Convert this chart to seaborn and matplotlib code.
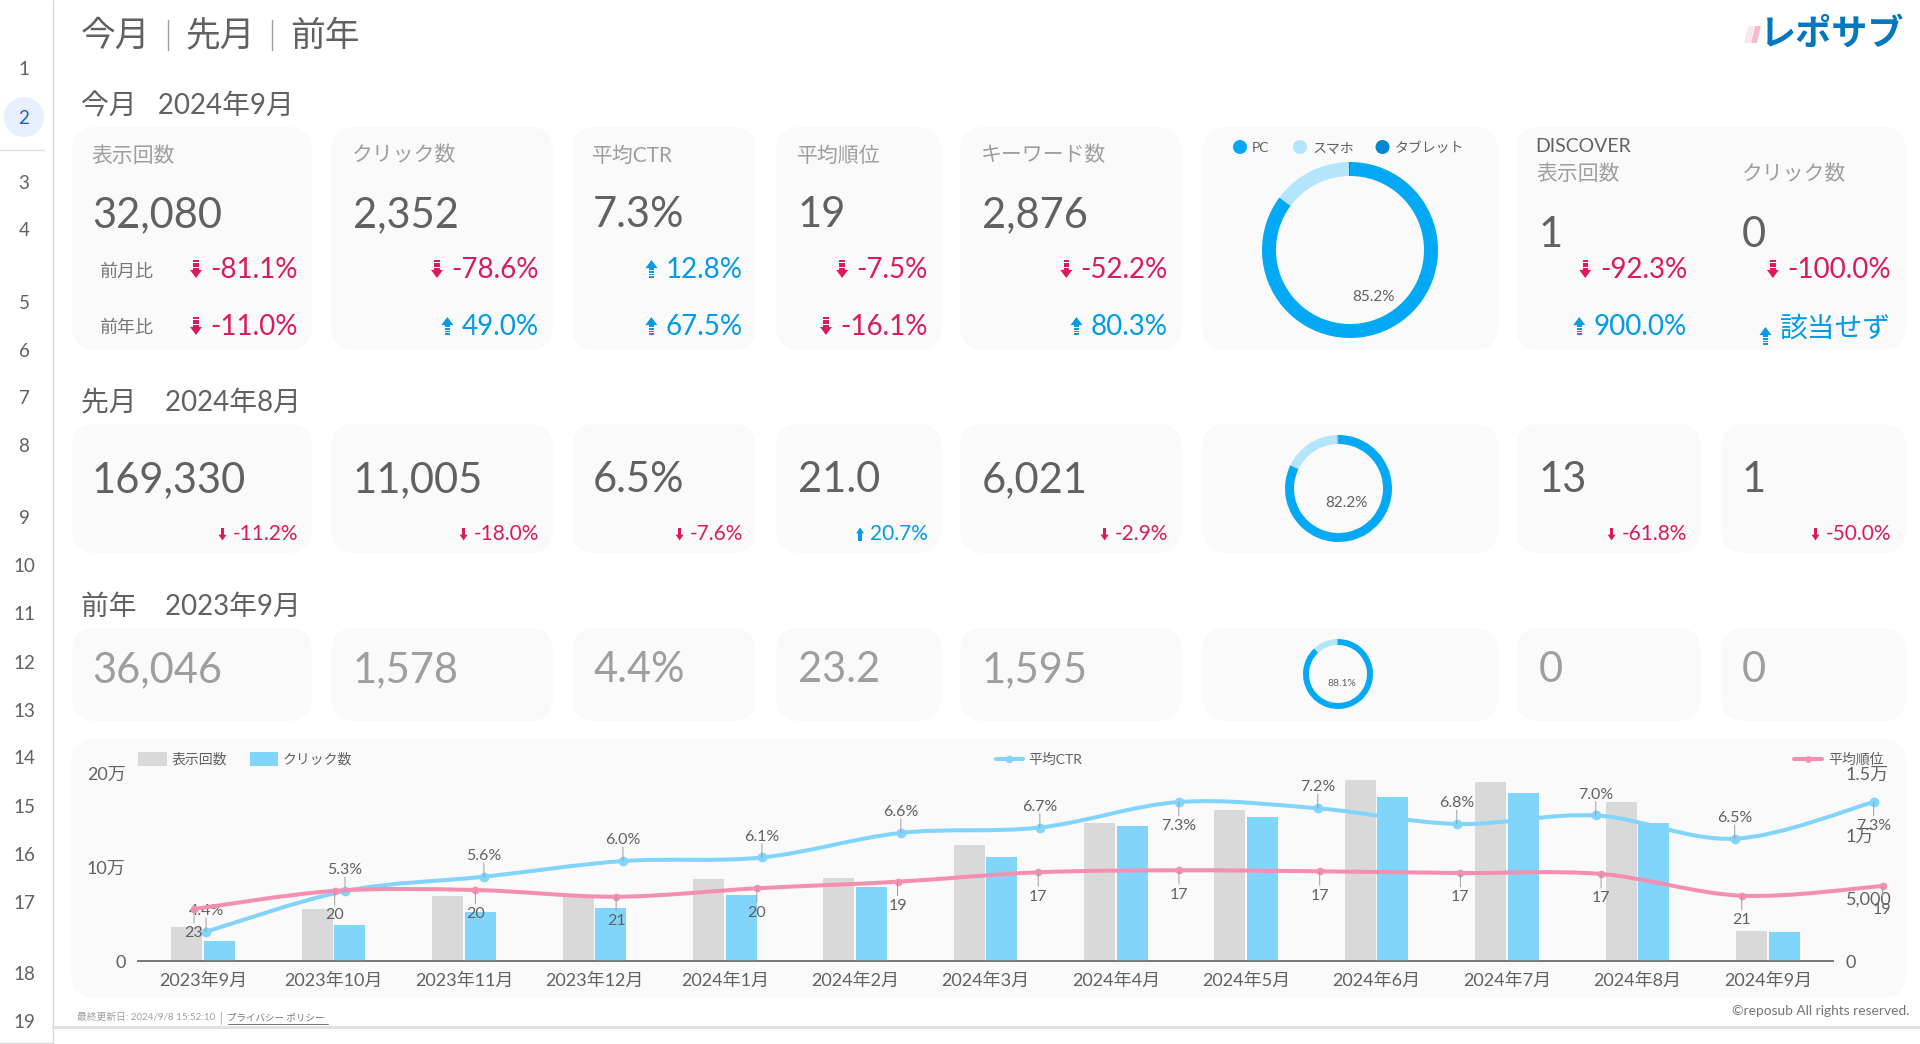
#%%
import matplotlib.pyplot as plt
import pandas as pd
import seaborn as sns
from matplotlib.patches import Circle, FancyBboxPatch, PathPatch, Polygon, Rectangle
from matplotlib.path import Path

#%%
# scorecards
card_labels = ['表示回数', 'クリック数', '平均CTR', '平均順位', 'キーワード数']
now_values = ['32,080', '2,352', '7.3%', '19', '2,876', '1', '0']
mom_changes = ['-81.1%', '-78.6%', '12.8%', '-7.5%', '-52.2%', '-92.3%', '-100.0%']
yoy_changes = ['-11.0%', '49.0%', '67.5%', '-16.1%', '80.3%', '900.0%', '該当せず']
prev_values = ['169,330', '11,005', '6.5%', '21.0', '6,021', '13', '1']
prev_changes = ['-11.2%', '-18.0%', '-7.6%', '20.7%', '-2.9%', '-61.8%', '-50.0%']
year_values = ['36,046', '1,578', '4.4%', '23.2', '1,595', '0', '0']

# device donuts
device_names = ['PC', 'スマホ', 'タブレット']
device_now = [85.2, 14.6, 0.2]
device_prev = [82.2, 17.5, 0.3]
device_year = [88.1, 11.7, 0.2]

# combo chart
months = ['2023年9月', '2023年10月', '2023年11月', '2023年12月', '2024年1月', '2024年2月', '2024年3月',
          '2024年4月', '2024年5月', '2024年6月', '2024年7月', '2024年8月', '2024年9月']
impressions = [36046, 55700, 69100, 68800, 87600, 88650, 123400, 146800, 160300, 192500, 190000, 169330, 32080]
clicks = [1578, 2900, 3880, 4256, 5290, 5930, 8330, 10800, 11465, 13110, 13400, 11005, 2352]
ctr = [4.40, 5.31, 5.63, 5.98, 6.06, 6.61, 6.73, 7.30, 7.16, 6.81, 7.00, 6.48, 7.30]
rank = [23.2, 20.2, 20.06, 21.17, 19.78, 18.69, 17.13, 16.8, 16.97, 17.25, 17.41, 21.0, 19.4]
left_ticks = [0, 100000, 200000]
left_tick_labels = ['0', '10万', '20万']
right_ticks = [0, 5000, 10000, 15000]
right_tick_labels = ['0', '5,000', '1万', '1.5万']

page_numbers = list(range(1, 20))

#%%
sns.set_theme(style='white')
plt.rcParams['font.family'] = ['Lato', 'Noto Sans CJK JP', 'DejaVu Sans']

W, H = 1920, 1044
RED = '#D81B60'
BLUE = '#039BE5'
GREY_TEXT = '#616161'
BAR_GREY = '#D9D9D9'
BAR_BLUE = '#81D4FA'
PINK = '#F48FB1'
DEVICE_COLORS = ['#03A9F4', '#B3E5FC', '#0288D1']

fig = plt.figure(figsize=(W / 100, H / 100), dpi=100, facecolor='white')
bg = fig.add_axes([0, 0, 1, 1], zorder=0)
bg.set_xlim(0, W)
bg.set_ylim(H, 0)
bg.axis('off')
renderer = fig.canvas.get_renderer()


def px_axes(x0, y0, x1, y1, **kw):
    # 像素坐标转成figure坐标
    return fig.add_axes([x0 / W, 1 - y1 / H, (x1 - x0) / W, (y1 - y0) / H], **kw)


def card(x0, y0, x1, y1):
    bg.add_patch(FancyBboxPatch((x0, y0), x1 - x0, y1 - y0, boxstyle='round,pad=0,rounding_size=24',
                                fc='#FAFAFA', ec='none', zorder=1))


def label(x, y, s, size, color=GREY_TEXT, ha='left', **kw):
    # 文字中心比va='center'略低
    if ha == 'left':
        x = x - 1
    return bg.text(x, y + 0.1 * size, s, fontsize=size, color=color, ha=ha, va='center', zorder=3, **kw)


def arrow(cx, cy, w, h, color, up):
    # 条纹箭头，先按向下画
    sign = -1 if up else 1
    top = cy - sign * h / 2
    n = 4
    for i in range(n):
        y0 = top + sign * i * h * 0.15
        bg.add_patch(Rectangle((cx - w * 0.22, min(y0, y0 + sign * h * 0.1)), w * 0.44, h * 0.1,
                               fc=color, ec='none', zorder=3))
    head_y = top + sign * h * 0.55
    bg.add_patch(Polygon([(cx - w / 2, head_y), (cx + w / 2, head_y), (cx, cy + sign * h / 2)],
                         fc=color, ec='none', zorder=3))


def delta(x, y, s, size, arrow_w, arrow_h, gap, arrow_dy=0):
    up = not s.startswith('-')
    color = BLUE if up else RED
    t = label(x, y, s, size, color=color, ha='right')
    left = t.get_window_extent(renderer).x0
    arrow(left - gap, y + 1 + arrow_dy, arrow_w, arrow_h, color, up)


def donut(cx, cy, r, thick, values, text, tx, ty, size):
    ax = px_axes(cx - r, cy - r, cx + r, cy + r, zorder=2)
    ax.pie(values, colors=DEVICE_COLORS, startangle=90, counterclock=False, radius=1,
           wedgeprops=dict(width=thick / r, linewidth=0))
    ax.set_xlim(-1, 1)
    ax.set_ylim(-1, 1)
    label(tx, ty, text, size, ha='center')


#%%
# 左侧页码
bg.add_patch(Circle((24, 117), 20, fc='#E8F0FE', ec='none', zorder=1))
page_y = [68, 117, 182, 229, 302, 350, 397, 445, 517, 565, 613, 662, 710, 757, 806, 854, 902, 973, 1021]
for n, y in zip(page_numbers, page_y):
    label(24, y, str(n), 13.5, color='#1A5FD0' if n == 2 else GREY_TEXT, ha='center')
bg.plot([0, 44], [150, 150], color='#E0E0E0', lw=1, zorder=1)
bg.plot([53, 53], [0, H], color='#DADADA', lw=1, zorder=1)
bg.plot([0, 53], [1043, 1043], color='#DADADA', lw=1, zorder=1)
bg.plot([53, W], [1026.5, 1026.5], color='#E0E0E0', lw=2, zorder=1)

# 标题
label(82, 33, '今月', 25)
label(186, 33, '先月', 25)
label(291, 33, '前年', 25)
for x in [168, 272]:
    bg.plot([x, x], [20, 50], color='#9E9E9E', lw=1, zorder=3)
label(82, 104, '今月   2024年9月', 20)
label(82, 401, '先月    2024年8月', 20)
label(82, 605, '前年    2023年9月', 20)

# logo
for x, c in zip([1744, 1751], ['#FDE7EF', '#F8BBD0']):
    bg.add_patch(Polygon([(x, 43), (x + 6, 43), (x + 10, 26), (x + 4, 26)], fc=c, ec='none', zorder=3))
label(1761, 31, 'レポサブ', 26, color='#0277BD', fontweight='bold')

#%%
# 卡片
col_edges = [(72, 312), (331, 553), (572, 756), (776, 942), (960, 1182)]
for x0, x1 in col_edges:
    card(x0, 127, x1, 350)
    card(x0, 424, x1, 553)
    card(x0, 628, x1, 721)
card(1202, 127, 1498, 350)
card(1202, 424, 1498, 553)
card(1202, 628, 1498, 721)
card(1516, 127, 1906, 350)
for x0, x1 in [(1516, 1701), (1721, 1906)]:
    card(x0, 424, x1, 553)
    card(x0, 628, x1, 721)

value_x = [93, 354, 594, 799, 983, 1540, 1743]
right_x = [298, 539, 743, 928, 1168, 1687, 1891]
for x, s in zip(value_x[:5], card_labels):
    label(x - 1, 154, s, 15, color='#9E9E9E')
label(1536, 145, 'DISCOVER', 14)
label(1537, 173, card_labels[0], 15, color='#9E9E9E')
label(1743, 173, card_labels[1], 15, color='#9E9E9E')
label(100, 271, '前月比', 13, color='#757575')
label(100, 327, '前年比', 13, color='#757575')

for i in range(7):
    label(value_x[i], 232 if i >= 5 else 212, now_values[i], 30)
    delta(right_x[i], 268, mom_changes[i], 20, 12, 18, 14.5)
    if yoy_changes[i] == '該当せず':
        delta(right_x[i], 327, yoy_changes[i], 20, 12, 18, 14.5, arrow_dy=8)
    else:
        delta(right_x[i], 325, yoy_changes[i], 20, 12, 18, 14.5)
    label(value_x[i], 477, prev_values[i], 30)
    delta(right_x[i], 533, prev_changes[i], 15, 8, 13, 10)
    label(value_x[i], 667, year_values[i], 30, color='#9E9E9E')

# 饼图
donut(1350, 250, 88, 14, device_now, f'{device_now[0]}%', 1373, 296, 11)
donut(1338.5, 488.5, 53.5, 9, device_prev, f'{device_prev[0]}%', 1346, 502, 11)
donut(1338, 674, 35, 6, device_year, f'{device_year[0]}%', 1341.5, 683, 7.5)
for dot_x, text_x, name, c in zip([1240, 1300, 1382.5], [1253, 1314, 1396], device_names, DEVICE_COLORS):
    bg.add_patch(Circle((dot_x, 147), 7, fc=c, ec='none', zorder=3))
    label(text_x, 147, name, 10)

#%%
# 组合图
card(71, 739, 1906, 998)
ax = px_axes(138, 773, 1833, 961, zorder=1)
ax.set_facecolor('none')
metric_order = ['表示回数', 'クリック数']
bar_colors = {'表示回数': BAR_GREY, 'クリック数': BAR_BLUE}

imp_df = pd.DataFrame({'month': months, 'value': impressions, 'metric': metric_order[0]})
clk_df = pd.DataFrame({'month': months, 'value': clicks, 'metric': metric_order[1]})
sns.barplot(data=imp_df, x='month', y='value', hue='metric', hue_order=metric_order, palette=bar_colors,
            width=0.5, gap=0.05, dodge=True, saturation=1, linewidth=0, legend=False, ax=ax)
ax_r = ax.twinx()
ax_r.set_facecolor('none')
sns.barplot(data=clk_df, x='month', y='value', hue='metric', hue_order=metric_order, palette=bar_colors,
            width=0.5, gap=0.05, dodge=True, saturation=1, linewidth=0, legend=False, ax=ax_r)

ax.set_ylim(0, 200000)
ax_r.set_ylim(0, 15000)
ax.set_yticks(left_ticks, left_tick_labels)
ax_r.set_yticks(right_ticks, right_tick_labels)
for a in [ax, ax_r]:
    a.set_xlabel('')
    a.set_ylabel('')
    a.grid(False)
    a.tick_params(axis='both', length=0, labelsize=13, labelcolor=GREY_TEXT, pad=8.5)
    for side in ['top', 'left', 'right']:
        a.spines[side].set_visible(False)
    a.spines['bottom'].set_color('#757575')
    a.spines['bottom'].set_linewidth(1.2)
ax.tick_params(axis='y', pad=9)
ax_r.tick_params(axis='y', pad=9)


def smooth_line(a, xs, ys, color):
    # 曲线穿过每个数据点，只是把折线画圆滑
    verts = [(xs[0], ys[0])]
    codes = [Path.MOVETO]
    n = len(xs)
    for i in range(n - 1):
        p0 = i - 1 if i > 0 else i
        p3 = i + 2 if i + 2 < n else i + 1
        verts.append((xs[i] + (xs[i + 1] - xs[p0]) / 6, ys[i] + (ys[i + 1] - ys[p0]) / 6))
        verts.append((xs[i + 1] - (xs[p3] - xs[i]) / 6, ys[i + 1] - (ys[p3] - ys[i]) / 6))
        verts.append((xs[i + 1], ys[i + 1]))
        codes += [Path.CURVE4] * 3
    a.add_patch(PathPatch(Path(verts, codes), fc='none', ec=color, lw=2.9, clip_on=False, zorder=2))


def line_axes(values, ylim, first_px, last_px, color, marker_size, texts, below):
    a = px_axes(138, 773, 1833, 961, zorder=2)
    a.set_facecolor('none')
    a.axis('off')
    idx = list(range(len(values)))
    smooth_line(a, idx, values, color)
    sns.lineplot(x=idx, y=values, color=color, marker='o', markersize=marker_size, markeredgewidth=0,
                 linewidth=0, errorbar=None, clip_on=False, zorder=3, ax=a)
    step = (last_px - first_px) / (len(values) - 1)
    a.set_xlim(-(first_px - 138) / step, len(values) - 1 + (1833 - last_px) / step)
    a.set_ylim(*ylim)
    for i, s in enumerate(texts):
        sign = -1 if i in below else 1
        a.annotate('', xy=(i, values[i]), xytext=(0, sign * 10), textcoords='offset points',
                   arrowprops=dict(arrowstyle='-', color='#9E9E9E', lw=0.7, shrinkA=0, shrinkB=0),
                   annotation_clip=False)
        a.annotate(s, xy=(i, values[i]), xytext=(0, sign * 16.3 - 1.2), textcoords='offset points', ha='center',
                   va='center', fontsize=11.5, color=GREY_TEXT, annotation_clip=False)
    return a


line_axes(ctr, (3.745, 7.95), 206, 1873.7, BAR_BLUE, 7, [f'{v:.1f}%' for v in ctr], [7, 12])
line_axes(rank, (31.79, 0.72), 194, 1882.5, PINK, 5.5, [f'{v:.0f}' for v in rank], list(range(len(rank))))

# 图例
bg.add_patch(Rectangle((138, 752), 28.5, 14, fc=BAR_GREY, ec='none', zorder=3))
label(173, 758, metric_order[0], 10)
bg.add_patch(Rectangle((250, 752), 28, 14, fc=BAR_BLUE, ec='none', zorder=3))
label(284, 758, metric_order[1], 10)
bg.plot([995.5, 1023], [759, 759], color=BAR_BLUE, lw=2.9, zorder=3)
bg.scatter([1009], [759], s=30, color=BAR_BLUE, linewidth=0, zorder=3)
label(1029, 758, '平均CTR', 10)
bg.plot([1794, 1822], [759, 759], color=PINK, lw=2.9, zorder=3)
bg.scatter([1808], [759], s=24, color=PINK, linewidth=0, zorder=3)
label(1829, 758, '平均順位', 10)

# 页脚
label(78, 1017, '最終更新日: 2024/9/8 15:52:10', 7, color='#9E9E9E')
bg.plot([221, 221], [1012, 1024], color='#BDBDBD', lw=0.8, zorder=3)
label(228, 1017, 'プライバシー ポリシー', 6.8, color='#757575')
bg.plot([228, 328], [1024, 1024], color='#757575', lw=0.7, zorder=3)
label(1910, 1010, '©reposub All rights reserved.', 9.9, color='#757575', ha='right')

fig.savefig('out.png', dpi=100)
